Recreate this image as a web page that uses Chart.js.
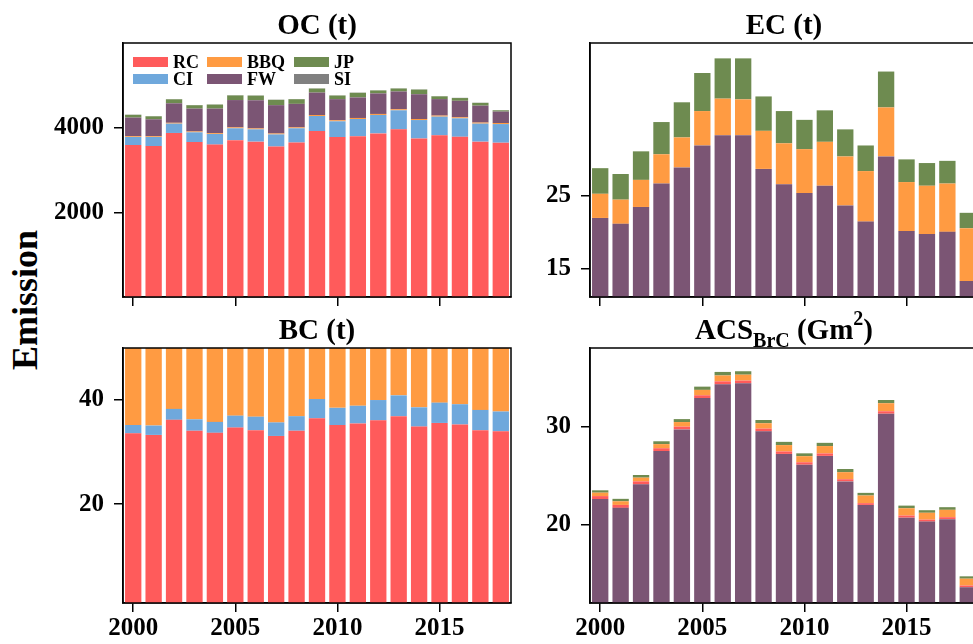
<!DOCTYPE html>
<html>
<head>
<meta charset="utf-8">
<script src="https://cdn.jsdelivr.net/npm/chart.js@4.4.1/dist/chart.umd.min.js"></script>
<style>
  body { margin: 0; background: #fff; overflow: hidden; width: 973px; height: 644px; position: relative; }
  canvas { position: absolute; }
  #ylab {
    position: absolute; left: 25px; top: 300px;
    font: bold 36px "Liberation Serif", serif; color: #000; white-space: nowrap;
    transform: translate(-50%, -50%) rotate(-90deg);
  }
</style>
</head>
<body>
<div id="ylab">Emission</div>
<canvas id="oc" width="520" height="310" style="left:0;top:0"></canvas>
<canvas id="ec" width="520" height="310" style="left:467px;top:0"></canvas>
<canvas id="bc" width="520" height="339" style="left:0;top:305px"></canvas>
<canvas id="acs" width="520" height="339" style="left:467px;top:305px"></canvas>
<script>
const years = [2000, 2001, 2002, 2003, 2004, 2005, 2006, 2007, 2008, 2009,
               2010, 2011, 2012, 2013, 2014, 2015, 2016, 2017, 2018];

// OC (t)
const ocRC  = [3590, 3565, 3875, 3660, 3600, 3705, 3670, 3555, 3650, 3920, 3780, 3800, 3865, 3960, 3745, 3820, 3785, 3670, 3645];
const ocCI  = [190, 215, 220, 230, 250, 280, 290, 285, 335, 355, 370, 405, 435, 450, 435, 440, 435, 425, 440];
const ocBBQ = [18, 18, 20, 20, 20, 22, 22, 22, 22, 24, 24, 24, 24, 25, 25, 25, 25, 25, 25];
const ocFW  = [440, 400, 460, 540, 580, 645, 665, 670, 555, 530, 500, 485, 485, 420, 585, 390, 390, 400, 270];
const ocJP  = [65, 70, 95, 80, 95, 110, 110, 125, 110, 95, 85, 110, 70, 70, 110, 65, 65, 65, 30];
const ocSI  = [5, 5, 5, 5, 5, 5, 5, 5, 5, 5, 5, 5, 5, 5, 5, 5, 5, 5, 5];

// EC (t)
const ecFW  = [21.9, 21.1, 23.4, 26.6, 28.8, 31.8, 33.2, 33.2, 28.6, 26.5, 25.3, 26.3, 23.6, 21.4, 30.3, 20.1, 19.7, 20.0, 13.3];
const ecBBQ = [3.3, 3.3, 3.7, 4.0, 4.1, 4.7, 5.0, 4.9, 5.2, 5.6, 6.0, 6.0, 6.7, 6.9, 6.7, 6.7, 6.6, 6.6, 7.2];
const ecJP  = [3.5, 3.5, 3.9, 4.4, 4.8, 5.2, 5.5, 5.6, 4.7, 4.4, 4.0, 4.3, 3.7, 3.5, 4.9, 3.1, 3.1, 3.1, 2.1];

// BC (t)
const bcRC  = [33.6, 33.3, 36.2, 34.1, 33.7, 34.7, 34.2, 33.1, 34.1, 36.5, 35.2, 35.5, 36.1, 36.9, 34.9, 35.6, 35.3, 34.2, 34.0];
const bcCI  = [1.6, 1.8, 2.1, 2.2, 2.1, 2.3, 2.6, 2.6, 2.8, 3.7, 3.3, 3.4, 3.9, 4.0, 3.7, 3.9, 3.9, 3.9, 3.8];
const bcBBQ = [17.8, 17.9, 14.8, 16.7, 17.2, 16.0, 16.1, 17.2, 16.1, 12.8, 14.5, 14.1, 13.0, 12.0, 14.4, 13.5, 13.8, 14.9, 15.1];

// ACS_BrC (Gm^2)
const acsFW  = [22.6, 21.7, 24.1, 27.5, 29.7, 32.9, 34.3, 34.4, 29.5, 27.2, 26.1, 27.0, 24.4, 22.0, 31.3, 20.7, 20.3, 20.55, 13.6];
const acsRC  = [0.30, 0.30, 0.30, 0.28, 0.28, 0.28, 0.30, 0.28, 0.28, 0.25, 0.25, 0.25, 0.22, 0.18, 0.25, 0.22, 0.20, 0.20, 0.18];
const acsBBQ = [0.35, 0.37, 0.38, 0.42, 0.47, 0.55, 0.60, 0.60, 0.55, 0.65, 0.62, 0.75, 0.72, 0.78, 0.82, 0.74, 0.70, 0.75, 0.70];
const acsJP  = [0.24, 0.25, 0.27, 0.29, 0.30, 0.33, 0.36, 0.35, 0.33, 0.33, 0.29, 0.33, 0.32, 0.27, 0.33, 0.27, 0.26, 0.27, 0.24];

const col = { RC: "#ff5b5b", CI: "#6fa8dc", BBQ: "#ff9b42", FW: "#7b5574", JP: "#6e8b50", SI: "#808080" };
const serif = '"Liberation Serif", "Times New Roman", serif';

Chart.defaults.font.family = serif;
Chart.defaults.font.weight = "bold";
Chart.defaults.font.size = 25;
Chart.defaults.color = "#000";

const framePlugin = {
  id: "frame",
  afterDraw(c) {
    const a = c.chartArea, g = c.ctx;
    g.save();
    g.strokeStyle = "#000";
    g.lineWidth = 1.5;
    g.strokeRect(a.left, a.top, a.right - a.left, a.bottom - a.top);
    g.restore();
  }
};

// title with optional sub/superscript parts
const titlePlugin = {
  id: "panelTitle",
  afterDraw(c, args, opts) {
    const parts = opts.parts || [];
    const g = c.ctx, a = c.chartArea;
    const fontOf = p => (p.sub || p.sup) ? "bold 20px " + serif : "bold 29px " + serif;
    g.save();
    let w = 0;
    parts.forEach(p => { g.font = fontOf(p); w += g.measureText(p.t).width; });
    let x = (a.left + a.right) / 2 - w / 2;
    const base = a.top - 9;
    g.fillStyle = "#000";
    g.textBaseline = "alphabetic";
    parts.forEach(p => {
      g.font = fontOf(p);
      const y = p.sub ? base + 8 : p.sup ? base - 14 : base;
      g.fillText(p.t, x, y);
      x += g.measureText(p.t).width;
    });
    g.restore();
  }
};

// legend inside the axes, 3 columns x 2 rows
const boxLegend = {
  id: "boxLegend",
  afterDraw(c, args, opts) {
    if (!opts.show) return;
    const g = c.ctx, a = c.chartArea;
    const colX = [10, 84, 171], rowY = [19, 36];
    g.save();
    g.font = "bold 18px " + serif;
    g.textBaseline = "middle";
    c.data.datasets.forEach((d, i) => {
      const x = a.left + colX[Math.floor(i / 2)];
      const y = a.top + rowY[i % 2];
      g.fillStyle = d.backgroundColor;
      g.fillRect(x, y - 5, 35, 10);
      g.fillStyle = "#000";
      g.fillText(d.label, x + 40, y + 1);
    });
    g.restore();
  }
};

function panel(id, sets, yMin, yMax, yTicks, title, showYears, legend) {
  return new Chart(document.getElementById(id), {
    type: "bar",
    data: {
      labels: years.map(String),
      datasets: sets.map(s => ({
        label: s[0], data: s[1], backgroundColor: col[s[0]],
        borderWidth: 0, barPercentage: 0.8, categoryPercentage: 1.0
      }))
    },
    options: {
      responsive: false,
      animation: false,
      layout: { padding: { top: 43, right: 9, left: 0, bottom: 0 } },
      plugins: {
        legend: { display: false },
        tooltip: { enabled: false },
        panelTitle: { parts: title },
        boxLegend: { show: legend }
      },
      scales: {
        x: {
          stacked: true,
          grid: {
            offset: false, drawOnChartArea: false, tickLength: 9, lineWidth: 1.5,
            color: ctx => years[ctx.index] % 5 === 0 ? "#000" : "rgba(0,0,0,0)"
          },
          border: { color: "#000", width: 1.5 },
          ticks: {
            autoSkip: false, maxRotation: 0, padding: 2,
            callback: (v, i) => (showYears && years[i] % 5 === 0) ? String(years[i]) : ""
          },
          afterFit: s => {
            s.height = showYears ? 41 : 13;
            s.paddingLeft = 0; s.paddingRight = 0;
          }
        },
        y: {
          stacked: true, min: yMin, max: yMax,
          grid: { drawOnChartArea: false, tickLength: 9, lineWidth: 1.5, color: "#000" },
          border: { color: "#000", width: 1.5 },
          ticks: { padding: 10, callback: v => String(v) },
          afterBuildTicks: s => { s.ticks = yTicks.map(v => ({ value: v })); },
          afterFit: s => {
            s.width = 123;
            s.paddingTop = 0; s.paddingBottom = 0;
          }
        }
      }
    },
    plugins: [framePlugin, titlePlugin, boxLegend]
  });
}

panel("oc", [["RC", ocRC], ["CI", ocCI], ["BBQ", ocBBQ], ["FW", ocFW], ["JP", ocJP], ["SI", ocSI]],
      0, 6000, [2000, 4000], [{ t: "OC (t)" }], false, true);
panel("ec", [["FW", ecFW], ["BBQ", ecBBQ], ["JP", ecJP]],
      11.1, 45.8, [15, 25], [{ t: "EC (t)" }], false, false);
panel("bc", [["RC", bcRC], ["CI", bcCI], ["BBQ", bcBBQ]],
      1, 50, [20, 40], [{ t: "BC (t)" }], true, false);
panel("acs", [["FW", acsFW], ["RC", acsRC], ["BBQ", acsBBQ], ["JP", acsJP]],
      12, 38, [20, 30], [{ t: "ACS" }, { t: "BrC", sub: true }, { t: " (Gm" }, { t: "2", sup: true }, { t: ")" }], true, false);
</script>
</body>
</html>
